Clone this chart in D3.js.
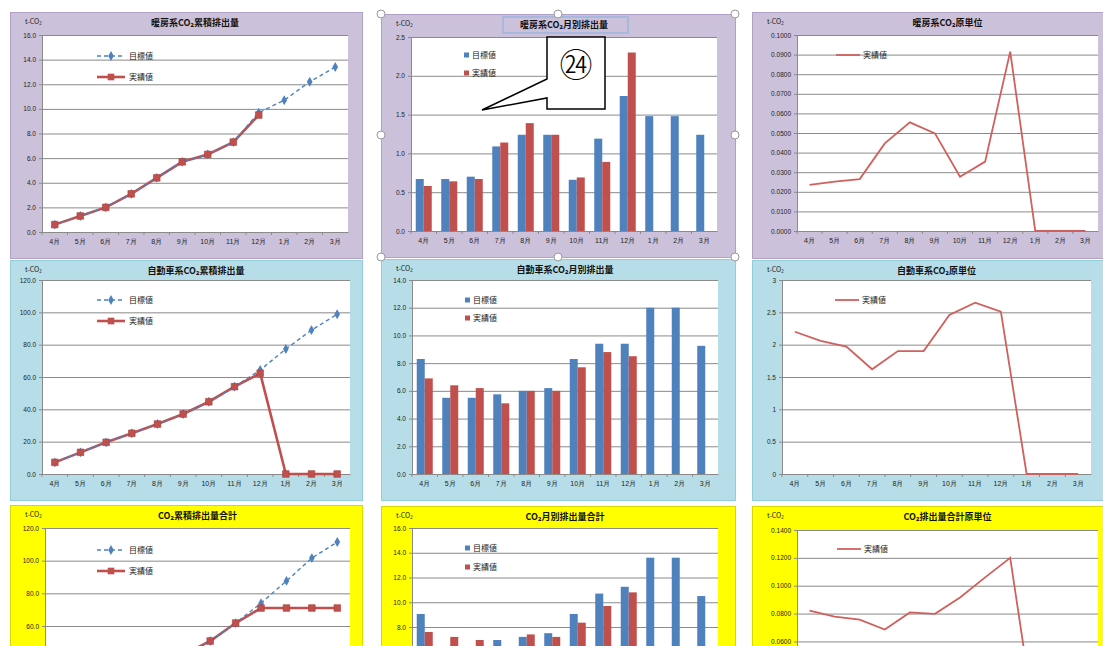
<!DOCTYPE html>
<html><head><meta charset="utf-8">
<script src="https://cdn.jsdelivr.net/npm/d3@7"></script>
<style>
body{margin:0;background:#fff;overflow:hidden;}
svg{display:block;font-family:"Noto Sans CJK JP","Noto Sans",sans-serif;}
</style>
</head><body>
<svg id="c" width="1103" height="646"></svg>
<script>
// ---------- DATA ----------
const months = ["4月","5月","6月","7月","8月","9月","10月","11月","12月","1月","2月","3月"];

const heatCumTarget = [0.6,1.3,2.0,3.1,4.4,5.7,6.3,7.3,9.7,10.7,12.2,13.4];
const heatCumActual = [0.6,1.3,2.0,3.1,4.4,5.7,6.3,7.3,9.5,null,null,null];
const heatCumTicks  = [0,2,4,6,8,10,12,14,16];

const heatMonTarget = [0.67,0.67,0.70,1.09,1.24,1.24,0.66,1.19,1.74,1.48,1.48,1.24];
const heatMonActual = [0.58,0.64,0.67,1.14,1.39,1.24,0.69,0.89,2.30,null,null,null];
const heatMonTicks  = [0,0.5,1.0,1.5,2.0,2.5];

const heatUnit      = [0.0235,0.0252,0.0265,0.0447,0.0554,0.0498,0.0277,0.0354,0.0915,0,0,0];
const heatUnitTicks = [0,0.01,0.02,0.03,0.04,0.05,0.06,0.07,0.08,0.09,0.10];

const carCumTarget  = [7.2,13.4,19.6,25.2,30.9,37.1,44.7,54.0,64.3,77.3,89.0,98.8];
const carCumActual  = [7.2,13.4,19.6,25.2,30.9,37.1,44.7,54.0,62.3,0,0,0];
const carCumTicks   = [0,20,40,60,80,100,120];

const carMonTarget  = [8.3,5.5,5.5,5.75,6.0,6.2,8.3,9.4,9.4,12.0,12.0,9.25];
const carMonActual  = [6.9,6.4,6.2,5.1,6.0,6.0,7.7,8.8,8.5,null,null,null];
const carMonTicks   = [0,2,4,6,8,10,12,14];

const carUnit       = [2.2,2.06,1.97,1.62,1.9,1.9,2.46,2.65,2.51,0,0,0];
const carUnitTicks  = [0,0.5,1,1.5,2,2.5,3];

const totalCumTarget = [7.8,14.7,21.6,28.3,35.3,42.8,50.8,61.8,74.0,87.6,101.6,111.4];
const totalCumActual = [7.8,14.7,21.6,28.3,35.3,42.8,50.8,61.8,71.0,71.0,71.0,71.0];
const totalCumTicks  = [0,20,40,60,80,100,120];

const totalMonTarget = [9.05,6.2,6.2,6.95,7.2,7.5,9.05,10.7,11.25,13.6,13.6,10.5];
const totalMonActual = [7.6,7.2,6.95,6.2,7.4,7.2,8.35,9.7,10.8,null,null,null];
const totalMonTicks  = [0,2,4,6,8,10,12,14,16];

const totalUnit      = [0.0822,0.0778,0.0757,0.0685,0.0808,0.0798,0.0915,0.106,0.12,0,0,0];
const totalUnitTicks = [0,0.02,0.04,0.06,0.08,0.10,0.12,0.14];

const legendTarget = "目標値", legendActual = "実績値", unitLabel = "t-CO₂";

// ---------- STYLE ----------
const H = 646;
const BLUE = "#4f81bd", RED = "#c0504d", GRID = "#8a8a8a";
const BG = {purple:"#ccc1da", blue:"#b7dee8", yellow:"#ffff00"};
const BORDER = {purple:"#b1a0c6", blue:"#92cddc", yellow:"#d8d800"};

const panels = [
 {type:"cum", title:"暖房系CO₂累積排出量", bg:"purple", box:[10,12,352,246], plot:[42,348,35,232],
  target:heatCumTarget, actual:heatCumActual, ticks:heatCumTicks, fmt:d3.format(".1f"), leg:[97,56,77]},
 {type:"bar", title:"暖房系CO₂月別排出量", bg:"purple", box:[381,14,354,243], plot:[411,717,37,231],
  target:heatMonTarget, actual:heatMonActual, ticks:heatMonTicks, fmt:d3.format(".1f"), leg:[464,55,73]},
 {type:"unit", title:"暖房系CO₂原単位", bg:"purple", box:[752,12,360,246], plot:[797,1098,35,231],
  actual:heatUnit, ticks:heatUnitTicks, fmt:d3.format(".4f"), leg:[836,55]},
 {type:"cum", title:"自動車系CO₂累積排出量", bg:"blue", box:[10,260,352,240], plot:[42,350,280,474],
  target:carCumTarget, actual:carCumActual, ticks:carCumTicks, fmt:d3.format(".1f"), leg:[97,300,321]},
 {type:"bar", title:"自動車系CO₂月別排出量", bg:"blue", box:[381,259,354,241], plot:[412,718,280,474],
  target:carMonTarget, actual:carMonActual, ticks:carMonTicks, fmt:d3.format(".1f"), leg:[465,300,318]},
 {type:"unit", title:"自動車系CO₂原単位", bg:"blue", box:[752,260,360,240], plot:[782,1091,280,474],
  actual:carUnit, ticks:carUnitTicks, fmt:d => String(d), leg:[835,300]},
 {type:"cum", title:"CO₂累積排出量合計", bg:"yellow", box:[10,505,352,260], plot:[45,350,528,724],
  target:totalCumTarget, actual:totalCumActual, ticks:totalCumTicks, fmt:d3.format(".1f"), leg:[97,550,571]},
 {type:"bar", title:"CO₂月別排出量合計", bg:"yellow", box:[381,506,354,260], plot:[412,718,528,726],
  target:totalMonTarget, actual:totalMonActual, ticks:totalMonTicks, fmt:d3.format(".1f"), leg:[465,548,567]},
 {type:"unit", title:"CO₂排出量合計原単位", bg:"yellow", box:[752,506,360,260], plot:[797,1098,530,725],
  actual:totalUnit, ticks:totalUnitTicks, fmt:d3.format(".4f"), leg:[837,549]}
];

const svg = d3.select("#c");

function drawPanel(p){
  const g = svg.append("g");
  const [bx,by,bw,bh] = p.box;
  const [x0,x1,y0,y1] = p.plot;
  g.append("rect").attr("x",bx+0.5).attr("y",by+0.5).attr("width",bw).attr("height",bh)
    .attr("fill",BG[p.bg]).attr("stroke",BORDER[p.bg]);
  g.append("rect").attr("x",x0).attr("y",y0).attr("width",x1-x0).attr("height",y1-y0).attr("fill","#fff");

  // title & unit
  g.append("text").attr("x",(x0+x1)/2).attr("y",by+14).attr("text-anchor","middle")
    .attr("font-size",9).attr("font-weight","bold").attr("fill","#111").text(p.title);
  g.append("text").attr("x",bx+15).attr("y",by+12).attr("font-size",7).attr("fill","#222").text(unitLabel);

  const x = d3.scaleBand().domain(months).range([x0,x1]);
  const y = d3.scaleLinear().domain([0, d3.max(p.ticks)]).range([y1,y0]);

  // grid
  const grid = g.append("g").attr("transform",`translate(${x0},0)`)
    .call(d3.axisLeft(y).tickValues(p.ticks).tickSize(-(x1-x0)).tickFormat(""));
  grid.select(".domain").remove();
  grid.selectAll("line").attr("stroke",GRID).attr("stroke-width",1);

  // y axis (only ticks that fall inside the visible frame)
  const visTicks = p.ticks.filter(t => y(t) < H - 3);
  const ya = g.append("g").attr("transform",`translate(${x0},0)`)
    .call(d3.axisLeft(y).tickValues(visTicks).tickFormat(p.fmt).tickSize(3).tickPadding(3));
  ya.select(".domain").attr("stroke",GRID);
  ya.selectAll("line").attr("stroke",GRID);
  ya.selectAll("text").attr("font-size",6.5).attr("fill","#222")
    .attr("font-family","'Liberation Sans',Arial,sans-serif");

  // x axis
  if (y1 < H) {
    const xa = g.append("g").attr("transform",`translate(0,${y1})`)
      .call(d3.axisBottom(x).tickSize(0).tickPadding(7));
    xa.select(".domain").attr("stroke",GRID);
    xa.selectAll("text").attr("font-size",7).attr("fill","#222");
    g.append("g").selectAll("line").data(months).join("line")
      .attr("x1",d=>x(d)).attr("x2",d=>x(d)).attr("y1",y1).attr("y2",y1+3).attr("stroke",GRID);
  }

  const cx = d => x(d) + x.bandwidth()/2;
  const L = p.leg;

  if(p.type==="cum"){
    const line = d3.line().defined(d=>d.v!=null).x(d=>cx(d.m)).y(d=>y(d.v));
    const tData = months.map((m,i)=>({m, v:p.target[i]}));
    const aData = months.map((m,i)=>({m, v:p.actual[i]}));
    g.append("path").datum(aData).attr("d",line).attr("fill","none").attr("stroke",RED).attr("stroke-width",2.6);
    g.append("path").datum(tData).attr("d",line).attr("fill","none").attr("stroke",BLUE)
      .attr("stroke-width",1.4).attr("stroke-dasharray","4,3");
    g.append("g").selectAll("path").data(tData).join("path")
      .attr("transform",d=>`translate(${cx(d.m)},${y(d.v)})`)
      .attr("d",d3.symbol(d3.symbolDiamond,28)).attr("fill",BLUE);
    g.append("g").selectAll("path").data(aData.filter(d=>d.v!=null)).join("path")
      .attr("transform",d=>`translate(${cx(d.m)},${y(d.v)})`)
      .attr("d",d3.symbol(d3.symbolSquare,44)).attr("fill",RED).attr("stroke","#a8403d").attr("stroke-width",0.6);
    // legend
    g.append("line").attr("x1",L[0]).attr("x2",L[0]+28).attr("y1",L[1]).attr("y2",L[1])
      .attr("stroke",BLUE).attr("stroke-width",1.4).attr("stroke-dasharray","4,3");
    g.append("path").attr("transform",`translate(${L[0]+14},${L[1]})`).attr("d",d3.symbol(d3.symbolDiamond,28)).attr("fill",BLUE);
    g.append("line").attr("x1",L[0]).attr("x2",L[0]+28).attr("y1",L[2]).attr("y2",L[2])
      .attr("stroke",RED).attr("stroke-width",2.6);
    g.append("path").attr("transform",`translate(${L[0]+14},${L[2]})`).attr("d",d3.symbol(d3.symbolSquare,44)).attr("fill",RED);
    g.append("text").attr("x",L[0]+32).attr("y",L[1]+3).attr("font-size",8).attr("fill","#222").text(legendTarget);
    g.append("text").attr("x",L[0]+32).attr("y",L[2]+3).attr("font-size",8).attr("fill","#222").text(legendActual);
  } else if(p.type==="bar"){
    const bw2 = 8;
    g.append("g").selectAll("rect").data(months.map((m,i)=>({m,v:p.target[i]}))).join("rect")
      .attr("x",d=>cx(d.m)-bw2).attr("width",bw2).attr("y",d=>y(d.v)).attr("height",d=>y1-y(d.v)).attr("fill",BLUE);
    g.append("g").selectAll("rect").data(months.map((m,i)=>({m,v:p.actual[i]})).filter(d=>d.v!=null)).join("rect")
      .attr("x",d=>cx(d.m)).attr("width",bw2).attr("y",d=>y(d.v)).attr("height",d=>y1-y(d.v)).attr("fill",RED);
    g.append("rect").attr("x",L[0]).attr("y",L[1]-2.5).attr("width",5).attr("height",5).attr("fill",BLUE);
    g.append("rect").attr("x",L[0]).attr("y",L[2]-2.5).attr("width",5).attr("height",5).attr("fill",RED);
    g.append("text").attr("x",L[0]+8).attr("y",L[1]+3).attr("font-size",8).attr("fill","#222").text(legendTarget);
    g.append("text").attr("x",L[0]+8).attr("y",L[2]+3).attr("font-size",8).attr("fill","#222").text(legendActual);
  } else {
    const line = d3.line().x(d=>cx(d.m)).y(d=>y(d.v));
    g.append("path").datum(months.map((m,i)=>({m,v:p.actual[i]}))).attr("d",line)
      .attr("fill","none").attr("stroke","#d0605d").attr("stroke-width",1.8);
    g.append("line").attr("x1",L[0]).attr("x2",L[0]+24).attr("y1",L[1]).attr("y2",L[1])
      .attr("stroke","#d0605d").attr("stroke-width",1.8);
    g.append("text").attr("x",L[0]+27).attr("y",L[1]+3).attr("font-size",8).attr("fill","#222").text(legendActual);
  }
}

panels.forEach(drawPanel);

// selection decorations on the second chart
const sel = svg.append("g");
sel.append("rect").attr("x",503).attr("y",17).attr("width",125).attr("height",16)
  .attr("fill","none").attr("stroke","#8fb4e3").attr("stroke-width",1.2);
const handles = [[381,14],[558,14],[735,14],[381,135],[735,135],[381,257],[558,257],[735,257]];
sel.selectAll("circle").data(handles).join("circle")
  .attr("cx",d=>d[0]).attr("cy",d=>d[1]).attr("r",4).attr("fill","#fff").attr("stroke","#999").attr("stroke-width",1);

// callout ㉔
const co = svg.append("g");
co.append("path").attr("d","M547,37 L605,37 L605,109 L547,109 L547,98 L482,110 L547,79 Z")
  .attr("fill","#fff").attr("stroke","#000").attr("stroke-width",1.5);
co.append("text").attr("x",576).attr("y",77).attr("text-anchor","middle").attr("font-size",33)
  .attr("font-family","'Noto Sans CJK JP','DejaVu Serif',serif").attr("font-weight","300").attr("fill","#000").text("㉔");
</script>
</body></html>
